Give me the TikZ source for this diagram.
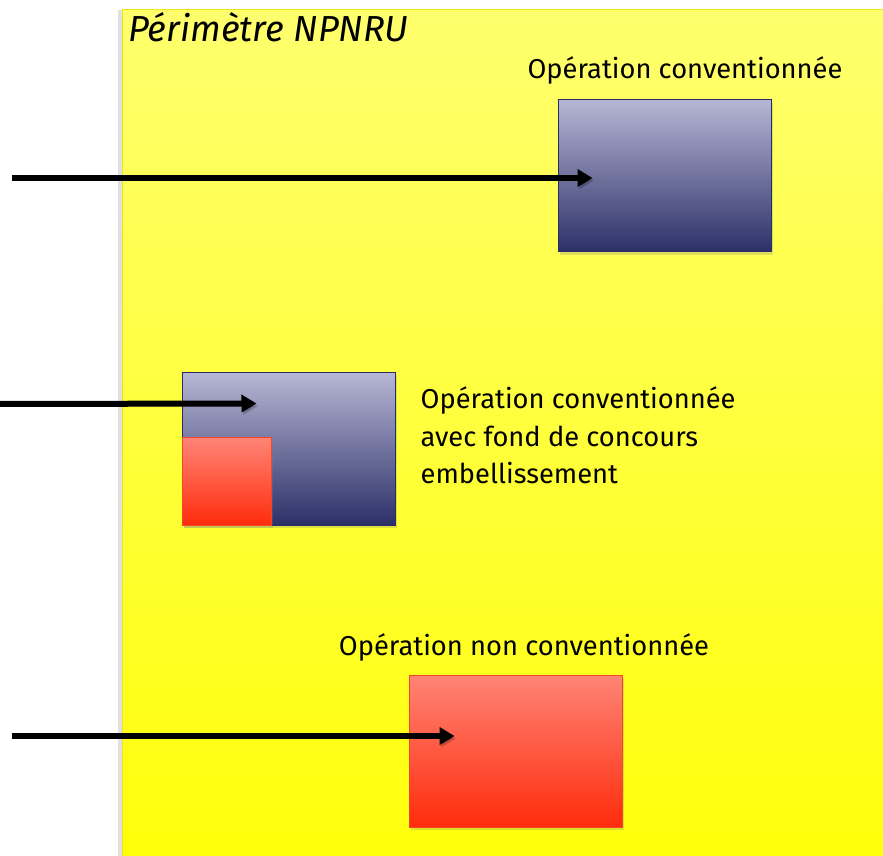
\documentclass[tikz,border=0pt]{standalone}
\usepackage{fontspec}
\setmainfont{Fira Sans}
\usepackage{tikz}
\usetikzlibrary{arrows.meta,positioning,shadows}

\definecolor{zonetop}{RGB}{255,255,110}
\definecolor{zonebot}{RGB}{255,255,10}
\definecolor{zoneline}{RGB}{240,228,20}
\definecolor{bluetop}{RGB}{182,182,212}
\definecolor{bluebot}{RGB}{44,48,104}
\definecolor{blueline}{RGB}{40,44,98}
\definecolor{redtop}{RGB}{255,132,118}
\definecolor{redbot}{RGB}{255,44,12}
\definecolor{redline}{RGB}{238,72,40}

\begin{document}
\begin{tikzpicture}[x=1pt, y=1pt,
  opblue/.style={draw=blueline, line width=1pt, top color=bluetop, bottom color=bluebot,
    minimum width=213pt, minimum height=152pt, inner sep=0pt,
    drop shadow={shadow xshift=2pt, shadow yshift=-3pt, opacity=0.25}},
  opred/.style={draw=redline, line width=1pt, top color=redtop, bottom color=redbot,
    minimum width=213pt, minimum height=152pt, inner sep=0pt,
    drop shadow={shadow xshift=2pt, shadow yshift=-3pt, opacity=0.25}},
  optext/.style={font=\fontsize{27.3}{37.5}\selectfont, inner sep=0pt},
  flow/.style={line width=6pt, -{Triangle[length=15pt,width=17pt]},
    preaction={draw=black, opacity=0.2, transform canvas={xshift=1.5pt,yshift=-2.5pt}}}]
  \useasboundingbox (0,0) rectangle (883,855);

  % perimetre
  \fill[black!12] (118,-5) rectangle (124,845);
  \shade[top color=zonetop, bottom color=zonebot] (122,-5) rectangle (890,845);
  \draw[zoneline, line width=1pt] (122,-5) -- (122,845) -- (890,845);
  \node[anchor=base west, inner sep=0pt, font=\fontsize{36.2}{40}\selectfont\itshape] (perim) at (128,813) {Périmètre NPNRU};

  % operations
  \node[opblue] (conv) at (664.5,679) {};
  \node[optext, anchor=base] (convtxt) at ([xshift=20.5pt,yshift=21pt]conv.north) {Opération conventionnée};

  \node[opblue] (mixte) at (288.5,406) {};
  \node[opred, minimum width=89pt, minimum height=87pt, anchor=south west] (fond) at (mixte.south west) {};
  \node[optext, align=left, anchor=north west] (mixtetxt) at ([xshift=25pt,yshift=-14pt]mixte.north east)
    {Opération conventionnée\\avec fond de concours\\embellissement};

  \node[opred] (nonconv) at (515.5,104) {};
  \node[optext, anchor=base] (nonconvtxt) at ([xshift=8.5pt,yshift=19pt]nonconv.north) {Opération non conventionnée};

  % fleches
  \coordinate (in1) at (12,677);
  \coordinate (in2) at (0,451);
  \coordinate (in3) at (12,119);
  \draw[flow] (in1) -- ([xshift=35pt,yshift=-2pt]conv.west);
  \draw[flow] (in2) -- ([shift={(75pt,-31pt)}]mixte.north west);
  \draw[flow] (in3) -- ([shift={(46pt,15pt)}]nonconv.west);
\end{tikzpicture}
\end{document}
